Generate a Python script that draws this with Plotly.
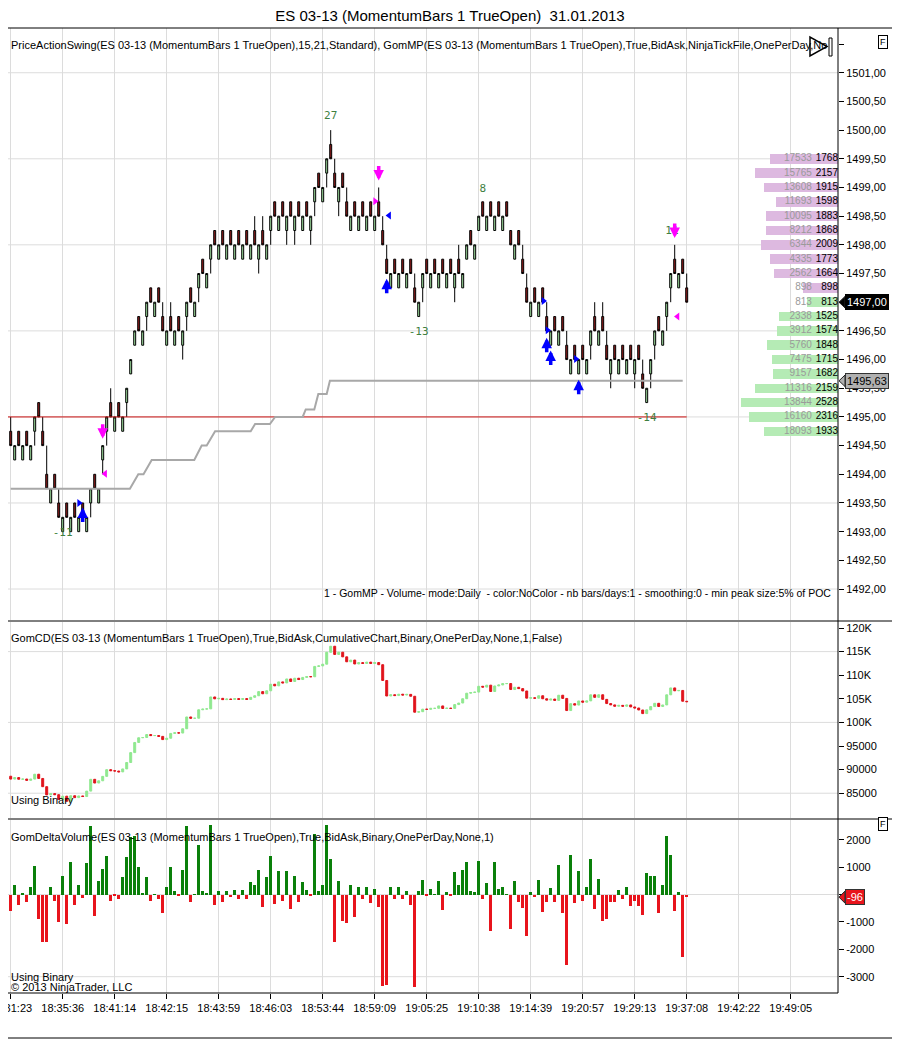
import numpy as np
import plotly.graph_objects as go
from plotly.subplots import make_subplots

FONT = "Arial, Liberation Sans, sans-serif"

# ---------------- price bars (MomentumBars 1 TrueOpen), one per bar index
bar_open = [
    1494.75, 1494.25, 1494.75, 1494.25, 1494.75, 1494.25, 1494.75, 1495.25, 1494.75, 1494.00,
    1493.50, 1494.00, 1493.50, 1493.00, 1493.50, 1493.00, 1493.50, 1493.00, 1493.50, 1493.00,
    1493.50, 1494.00, 1493.50, 1494.25, 1494.75, 1495.25, 1494.75, 1495.25, 1494.75, 1495.25,
    1495.75, 1496.25, 1496.75, 1496.25, 1496.75, 1497.25, 1496.75, 1497.25, 1496.75, 1496.25,
    1496.75, 1496.25, 1496.75, 1496.25, 1496.75, 1497.25, 1496.75, 1497.25, 1497.75, 1497.25,
    1497.75, 1498.25, 1497.75, 1498.25, 1497.75, 1498.25, 1497.75, 1498.25, 1497.75, 1498.25,
    1497.75, 1498.25, 1497.75, 1498.25, 1497.75, 1498.25, 1498.75, 1498.25, 1498.75, 1498.25,
    1498.75, 1498.25, 1498.75, 1498.25, 1498.75, 1498.25, 1498.75, 1499.25, 1498.75, 1499.25,
    1499.75, 1499.25, 1498.75, 1499.25, 1498.75, 1498.25, 1498.75, 1498.25, 1498.75, 1498.25,
    1498.75, 1498.25, 1498.75, 1498.25, 1497.75, 1497.25, 1497.75, 1497.25, 1497.75, 1497.25,
    1497.75, 1497.25, 1496.75, 1497.25, 1497.75, 1497.25, 1497.75, 1497.25, 1497.75, 1497.25,
    1497.75, 1497.25, 1497.75, 1497.25, 1497.75, 1498.25, 1497.75, 1498.25, 1498.75, 1498.25,
    1498.75, 1498.25, 1498.75, 1498.25, 1498.75, 1498.25, 1497.75, 1498.25, 1497.75, 1497.25,
    1496.75, 1497.25, 1496.75, 1497.25, 1496.75, 1496.25, 1496.75, 1496.25, 1496.75, 1496.25,
    1495.75, 1496.25, 1495.75, 1496.25, 1495.75, 1496.25, 1496.75, 1496.25, 1496.75, 1496.25,
    1495.75, 1496.25, 1495.75, 1496.25, 1495.75, 1496.25, 1495.75, 1496.25, 1495.75, 1495.25,
    1495.75, 1496.25, 1496.75, 1496.25, 1496.75, 1497.25, 1497.75, 1497.25, 1497.75, 1497.25,
]
bar_close = [
    1494.50, 1494.50, 1494.50, 1494.50, 1494.50, 1494.50, 1495.00, 1495.00, 1494.50, 1493.75,
    1493.75, 1493.75, 1493.25, 1493.25, 1493.25, 1493.25, 1493.25, 1493.25, 1493.25, 1493.25,
    1493.75, 1493.75, 1493.75, 1494.50, 1495.00, 1495.00, 1495.00, 1495.00, 1495.00, 1495.50,
    1496.00, 1496.50, 1496.50, 1496.50, 1497.00, 1497.00, 1497.00, 1497.00, 1496.50, 1496.50,
    1496.50, 1496.50, 1496.50, 1496.50, 1497.00, 1497.00, 1497.00, 1497.50, 1497.50, 1497.50,
    1498.00, 1498.00, 1498.00, 1498.00, 1498.00, 1498.00, 1498.00, 1498.00, 1498.00, 1498.00,
    1498.00, 1498.00, 1498.00, 1498.00, 1498.00, 1498.50, 1498.50, 1498.50, 1498.50, 1498.50,
    1498.50, 1498.50, 1498.50, 1498.50, 1498.50, 1498.50, 1499.00, 1499.00, 1499.00, 1499.50,
    1499.50, 1499.00, 1499.00, 1499.00, 1498.50, 1498.50, 1498.50, 1498.50, 1498.50, 1498.50,
    1498.50, 1498.50, 1498.50, 1498.00, 1497.50, 1497.50, 1497.50, 1497.50, 1497.50, 1497.50,
    1497.50, 1497.00, 1497.00, 1497.50, 1497.50, 1497.50, 1497.50, 1497.50, 1497.50, 1497.50,
    1497.50, 1497.50, 1497.50, 1497.50, 1498.00, 1498.00, 1498.00, 1498.50, 1498.50, 1498.50,
    1498.50, 1498.50, 1498.50, 1498.50, 1498.50, 1498.00, 1498.00, 1498.00, 1497.50, 1497.00,
    1497.00, 1497.00, 1497.00, 1497.00, 1496.50, 1496.50, 1496.50, 1496.50, 1496.50, 1496.00,
    1496.00, 1496.00, 1496.00, 1496.00, 1496.00, 1496.50, 1496.50, 1496.50, 1496.50, 1496.00,
    1496.00, 1496.00, 1496.00, 1496.00, 1496.00, 1496.00, 1496.00, 1496.00, 1495.50, 1495.50,
    1496.00, 1496.50, 1496.50, 1496.50, 1497.00, 1497.50, 1497.50, 1497.50, 1497.50, 1497.00,
]
bar_high = [
    1495.00, 1494.50, 1494.75, 1494.50, 1494.75, 1494.50, 1495.00, 1495.25, 1495.00, 1494.50,
    1493.75, 1494.00, 1493.75, 1493.25, 1493.50, 1493.25, 1493.50, 1493.25, 1493.50, 1493.25,
    1493.75, 1494.00, 1493.75, 1494.50, 1495.00, 1495.50, 1495.00, 1495.25, 1495.00, 1495.50,
    1496.00, 1496.50, 1496.75, 1496.50, 1497.00, 1497.25, 1497.00, 1497.25, 1497.00, 1496.50,
    1497.00, 1496.50, 1496.75, 1496.50, 1497.00, 1497.25, 1497.00, 1497.50, 1497.75, 1497.50,
    1498.00, 1498.25, 1498.00, 1498.25, 1498.00, 1498.25, 1498.00, 1498.25, 1498.00, 1498.25,
    1498.00, 1498.50, 1498.00, 1498.50, 1498.00, 1498.50, 1498.75, 1498.50, 1498.75, 1498.50,
    1498.75, 1498.50, 1498.75, 1498.50, 1498.75, 1498.50, 1499.00, 1499.25, 1499.00, 1499.50,
    1500.00, 1499.50, 1499.00, 1499.25, 1499.00, 1498.50, 1498.75, 1498.50, 1498.75, 1498.50,
    1498.75, 1498.50, 1499.00, 1498.50, 1498.00, 1497.50, 1497.75, 1497.50, 1497.75, 1497.50,
    1497.75, 1497.50, 1497.00, 1497.50, 1497.75, 1497.50, 1497.75, 1497.50, 1497.75, 1497.50,
    1497.75, 1497.50, 1498.00, 1497.50, 1498.00, 1498.25, 1498.00, 1498.50, 1498.75, 1498.50,
    1498.75, 1498.50, 1498.75, 1498.50, 1498.75, 1498.25, 1498.00, 1498.25, 1498.00, 1497.50,
    1497.00, 1497.25, 1497.00, 1497.25, 1497.00, 1496.50, 1496.75, 1496.50, 1496.75, 1496.50,
    1496.00, 1496.25, 1496.00, 1496.25, 1496.00, 1496.50, 1497.00, 1496.50, 1497.00, 1496.50,
    1496.00, 1496.25, 1496.00, 1496.25, 1496.00, 1496.25, 1496.00, 1496.25, 1496.00, 1495.50,
    1496.00, 1496.50, 1496.75, 1496.50, 1497.00, 1497.50, 1498.00, 1497.50, 1497.75, 1497.50,
]
bar_low = [
    1494.50, 1494.25, 1494.50, 1494.25, 1494.50, 1494.25, 1494.50, 1495.00, 1494.50, 1493.75,
    1493.50, 1493.75, 1493.25, 1493.00, 1493.25, 1493.00, 1493.25, 1493.00, 1493.25, 1493.00,
    1493.25, 1493.75, 1493.50, 1494.00, 1494.50, 1495.00, 1494.75, 1495.00, 1494.75, 1495.00,
    1495.75, 1496.25, 1496.50, 1496.25, 1496.50, 1497.00, 1496.75, 1497.00, 1496.50, 1496.25,
    1496.50, 1496.25, 1496.50, 1496.00, 1496.50, 1497.00, 1496.75, 1497.00, 1497.50, 1497.25,
    1497.50, 1498.00, 1497.75, 1498.00, 1497.75, 1498.00, 1497.75, 1498.00, 1497.75, 1498.00,
    1497.75, 1498.00, 1497.50, 1498.00, 1497.75, 1498.00, 1498.50, 1498.25, 1498.50, 1498.00,
    1498.50, 1498.00, 1498.50, 1498.25, 1498.50, 1498.00, 1498.50, 1499.00, 1498.75, 1499.00,
    1499.50, 1499.00, 1498.50, 1499.00, 1498.50, 1498.25, 1498.50, 1498.25, 1498.50, 1498.25,
    1498.50, 1498.25, 1498.50, 1498.00, 1497.50, 1497.25, 1497.50, 1497.25, 1497.50, 1497.25,
    1497.50, 1497.00, 1496.75, 1497.00, 1497.50, 1497.25, 1497.50, 1497.25, 1497.50, 1497.25,
    1497.50, 1497.00, 1497.50, 1497.25, 1497.75, 1498.00, 1497.75, 1498.25, 1498.50, 1498.25,
    1498.50, 1498.25, 1498.50, 1498.25, 1498.50, 1498.00, 1497.75, 1498.00, 1497.50, 1497.00,
    1496.75, 1497.00, 1496.75, 1497.00, 1496.50, 1496.25, 1496.50, 1496.25, 1496.50, 1496.00,
    1495.75, 1496.00, 1495.75, 1496.00, 1495.75, 1496.00, 1496.50, 1496.25, 1496.50, 1496.00,
    1495.50, 1496.00, 1495.75, 1496.00, 1495.75, 1496.00, 1495.50, 1496.00, 1495.50, 1495.25,
    1495.50, 1496.00, 1496.50, 1496.25, 1496.50, 1497.00, 1497.50, 1497.25, 1497.50, 1497.00,
]

# delta volume per bar (GomDeltaVolume)
delta = [
    -610, 330, -365, 50, -280, 270, 1030, -900, -1740, -1740,
    270, -220, -1010, 690, -1080, 1170, -400, 365, -130, 1145,
    2500, -790, 475, 940, 1420, -220, -70, -180, 630, 1360,
    2090, 2150, 1000, 50, 630, -220, 10, -180, -680, 290,
    1020, 145, -70, 910, 2500, -280, 10, 1790, 145, 50,
    2520, -400, 110, -280, 145, -100, 180, -180, 180, -180,
    450, 330, 880, -460, 630, 1390, -340, 840, -220, 840,
    -535, 690, -280, 450, 180, -40, 2190, 110, 365, 2520,
    1280, -1740, 475, -985, -1045, 365, -830, 290, -180, 290,
    -300, 210, -460, -3345, -3285, 270, -180, 290, -180, 145,
    -400, -3380, 110, 535, -40, 210, 10, 510, -550, 75,
    -60, 815, 330, 910, 1170, 145, 85, 1240, -180, 415,
    -1340, 1170, 210, 290, 10, -1265, 475, -280, -500, -1520,
    75, -100, 535, -645, -280, 220, -280, 1095, -680, -2570,
    1460, -300, 875, -255, 270, 1280, -535, 550, -975, -890,
    -280, -280, 180, -180, 270, -425, -220, -425, -765, 800,
    690, 690, -680, 330, 2150, 1460, -610, 75, -2290, -96,
]
cd_start = 88600  # cumulative delta before the first bar

# time axis
tick_pos = [0, 13, 26, 39, 52, 65, 78, 91, 104, 117, 130, 143, 156, 169, 182, 195]
tick_lbl = ["18:31:23", "18:35:36", "18:41:14", "18:42:15", "18:43:59", "18:46:03",
            "18:53:44", "18:59:09", "19:05:25", "19:10:38", "19:14:39", "19:20:57",
            "19:29:13", "19:37:08", "19:42:22", "19:49:05"]

# GomMP developing line (breakpoints)
mp_idx = [0, 29.8, 31.9, 33.2, 35.25, 45.9, 47.75, 49, 51.1, 60, 61.1, 64.8, 66.1,
          73, 73.75, 75.9, 76.9, 79, 79.8, 168]
mp_val = [1493.75, 1493.75, 1494.0, 1494.0, 1494.25, 1494.25, 1494.5, 1494.5, 1494.75,
          1494.75, 1494.875, 1494.875, 1495.0, 1495.0, 1495.13, 1495.13, 1495.4, 1495.4,
          1495.63, 1495.63]
ref_level = 1495.0
ref_end = 169

# volume profile (right side)
vp_price = [1499.5, 1499.25, 1499.0, 1498.75, 1498.5, 1498.25, 1498.0, 1497.75, 1497.5, 1497.25,
            1497.0, 1496.75, 1496.5, 1496.25, 1496.0, 1495.75, 1495.5, 1495.25, 1495.0, 1494.75]
vp_vol = [1768, 2157, 1915, 1598, 1883, 1868, 2009, 1773, 1664, 898,
          813, 1525, 1574, 1848, 1715, 1682, 2159, 2528, 2316, 1933]
vp_cum = [17533, 15765, 13608, 11693, 10095, 8212, 6344, 4335, 2562, 898,
          813, 2338, 3912, 5760, 7475, 9157, 11316, 13844, 16160, 18093]

# PriceActionSwing labels
swing_idx = [13, 80, 102, 118, 159, 165.3]
swing_px = [1492.98, 1500.24, 1496.47, 1498.97, 1494.97, 1498.24]
swing_txt = ["-11", "27", "-13", "8", "-14", "11"]

# signal arrows / triangles
dn_arrow_idx = [23, 92, 166]
dn_arrow_px = [1494.62, 1499.12, 1498.12]
up_arrow_idx = [18, 94, 134, 135, 142]
up_arrow_px = [1493.42, 1497.41, 1496.38, 1496.16, 1495.65]
pink_r_idx, pink_r_px = [91.1], [1498.76]
pink_l_idx, pink_l_px = [23.6, 166.7], [1494.01, 1496.75]
blue_l_idx, blue_l_px = [94.6], [1498.51]
blue_r_idx, blue_r_px = [17.1, 133.2, 134.2, 141.3], [1493.50, 1497.02, 1496.51, 1496.01]

price_ticks = [1492.0, 1492.5, 1493.0, 1493.5, 1494.0, 1494.5, 1495.0, 1495.5, 1496.0,
               1496.5, 1497.0, 1497.5, 1498.0, 1498.5, 1499.0, 1499.5, 1500.0, 1500.5, 1501.0, 1501.5]
price_grid = [1492.0, 1493.5, 1495.0, 1496.5, 1498.0, 1499.5, 1501.0]
cd_ticks = [85000, 90000, 95000, 100000, 105000, 110000, 115000, 120000]
cd_lbl = ["85000", "90000", "95000", "100K", "105K", "110K", "115K", "120K"]
cd_grid = [85000, 100000, 115000]
dv_ticks = [-3000, -2000, -1000, 0, 1000, 2000]
dv_grid = [-3000, 0]

# ---------------- derived series
idx = list(range(len(bar_open)))
cd_close = cd_start + np.cumsum(delta)
cd_open = np.concatenate([[cd_start], cd_close[:-1]])
last_close = bar_close[-1]
x_range = [-0.675, 206.825]

# the page puts the figure 8px in from the window corner
OFF = 8
PLOT_W = 830.0


def pxx(x):
    # window pixel -> paper x
    return (x - OFF) / PLOT_W


def pxy(y):
    # window pixel -> paper y (plot area spans window y 28..993)
    return (993.0 - y) / 965.0


def price_lbl(v):
    return f"{v:.2f}".replace(".", ",")


fig = make_subplots(rows=3, cols=1, shared_xaxes=True)

fig.add_trace(go.Candlestick(
    x=idx, open=bar_open, high=bar_high, low=bar_low, close=bar_close,
    increasing=dict(fillcolor="#A4E6A4", line=dict(color="black", width=1)),
    decreasing=dict(fillcolor="#8E1B1B", line=dict(color="black", width=1)),
    whiskerwidth=0, hoverinfo="skip", showlegend=False), row=1, col=1)

fig.add_trace(go.Scatter(x=[x_range[0], ref_end], y=[ref_level, ref_level], mode="lines",
                         line=dict(color="#CC1111", width=1), hoverinfo="skip",
                         showlegend=False), row=1, col=1)
fig.add_trace(go.Scatter(x=mp_idx, y=mp_val, mode="lines",
                         line=dict(color="#A8A8A8", width=2), hoverinfo="skip",
                         showlegend=False), row=1, col=1)
fig.add_trace(go.Scatter(x=swing_idx, y=swing_px, mode="text", text=swing_txt,
                         textfont=dict(family="DejaVu Sans Mono", size=11, color="#3F7F3F"),
                         hoverinfo="skip", showlegend=False), row=1, col=1)

for xs, ys, sym, col in [(pink_r_idx, pink_r_px, "triangle-right", "#FF00FF"),
                         (pink_l_idx, pink_l_px, "triangle-left", "#FF00FF"),
                         (blue_l_idx, blue_l_px, "triangle-left", "#0000FF"),
                         (blue_r_idx, blue_r_px, "triangle-right", "#0000FF")]:
    fig.add_trace(go.Scatter(x=xs, y=ys, mode="markers",
                             marker=dict(symbol=sym, size=7, color=col),
                             hoverinfo="skip", showlegend=False), row=1, col=1)

# volume profile on an overlay axis (0 at the right edge, 0.0385 px per contract)
vp_scale = PLOT_W / 0.0385
vp_colors = ["#DDB9E0" if p > last_close else "#B5EBB5" for p in vp_price]
fig.add_trace(go.Bar(x=vp_vol, y=vp_price, orientation="h", width=0.165,
                     marker=dict(color=vp_colors, line=dict(width=0)),
                     xaxis="x4", yaxis="y", hoverinfo="skip", showlegend=False))
fig.add_trace(go.Scatter(x=[680] * len(vp_price), y=vp_price, mode="text",
                         text=[str(v) for v in vp_cum], textposition="middle left",
                         textfont=dict(family=FONT, size=10, color="#9A9A9A"),
                         xaxis="x4", yaxis="y", cliponaxis=False, hoverinfo="skip",
                         showlegend=False))
fig.add_trace(go.Scatter(x=[0] * len(vp_price), y=vp_price, mode="text",
                         text=[str(v) for v in vp_vol], textposition="middle left",
                         textfont=dict(family=FONT, size=10, color="black"),
                         xaxis="x4", yaxis="y", cliponaxis=False, hoverinfo="skip",
                         showlegend=False))

# cumulative delta
fig.add_trace(go.Candlestick(
    x=idx, open=cd_open, close=cd_close,
    high=np.maximum(cd_open, cd_close), low=np.minimum(cd_open, cd_close),
    increasing=dict(fillcolor="#90E890", line=dict(color="#90E890", width=1)),
    decreasing=dict(fillcolor="#E0141C", line=dict(color="#E0141C", width=1)),
    whiskerwidth=0, hoverinfo="skip", showlegend=False), row=2, col=1)

# delta volume
fig.add_trace(go.Bar(x=idx, y=delta, width=0.72,
                     marker=dict(color=["#0A800A" if v >= 0 else "#E8141C" for v in delta],
                                 line=dict(width=0)),
                     hoverinfo="skip", showlegend=False), row=3, col=1)

# ---------------- layout
axis_common = dict(showline=False, zeroline=False, ticks="outside", ticklen=5,
                   tickcolor="black", tickfont=dict(family=FONT, size=11, color="black"),
                   side="right", showgrid=False, fixedrange=True, automargin=False)
fig.update_layout(
    width=900 - OFF, height=1039 - OFF,
    margin=dict(l=0, r=900 - OFF - PLOT_W, t=28 - OFF, b=1039 - 993),
    paper_bgcolor="white", plot_bgcolor="white",
    font=dict(family=FONT, size=11, color="black"),
    showlegend=False, bargap=0,
    title=dict(text="ES 03-13 (MomentumBars 1 TrueOpen)\u00a0 31.01.2013", x=(450 - OFF) / (900 - OFF),
               xanchor="center", y=1 - (16 - OFF) / (1039 - OFF), yanchor="middle",
               font=dict(family=FONT, size=15, color="black")),
    yaxis=dict(domain=[pxy(620), 1.0], range=[1491.46, 1501.78], tickvals=price_ticks,
               ticktext=["" if v in (1501.5, last_close) else price_lbl(v) for v in price_ticks],
               **axis_common),
    yaxis2=dict(domain=[pxy(818), pxy(622)], range=[79750, 121270], tickvals=cd_ticks,
                ticktext=cd_lbl, **axis_common),
    yaxis3=dict(domain=[0, pxy(820)], range=[-3595, 2719], tickvals=dv_ticks,
                ticktext=["" if v == 0 else str(v) for v in dv_ticks], **axis_common),
    xaxis4=dict(overlaying="x", anchor="y", range=[vp_scale, 0], visible=False,
                fixedrange=True, automargin=False),
)
for r in (1, 2, 3):
    fig.update_xaxes(row=r, col=1, range=x_range, tickvals=tick_pos, ticktext=tick_lbl,
                     showgrid=True, gridcolor="#DCDCDC", gridwidth=1, zeroline=False,
                     rangeslider_visible=False, fixedrange=True, automargin=False,
                     showticklabels=(r == 3), ticks="outside" if r == 3 else "",
                     ticklen=5, tickcolor="black", ticklabeloverflow="allow",
                     tickfont=dict(family=FONT, size=11, color="black"))

shapes = []
for yref, grid in (("y", price_grid), ("y2", cd_grid), ("y3", dv_grid)):
    for g in grid:
        shapes.append(dict(type="line", xref="x domain", x0=0, x1=1, yref=yref, y0=g, y1=g,
                           line=dict(color="#DCDCDC", width=1), layer="below"))
frame = dict(color="black", width=1)
full_w = pxx(900)
for yy in (28, 621, 819):
    shapes.append(dict(type="line", xref="paper", yref="paper", x0=pxx(0), x1=full_w,
                       y0=pxy(yy), y1=pxy(yy), line=frame))
shapes.append(dict(type="line", xref="paper", yref="paper", x0=pxx(0), x1=1, y0=0, y1=0,
                   line=frame))
shapes.append(dict(type="line", xref="paper", yref="paper", x0=1, x1=1, y0=0, y1=1, line=frame))
shapes.append(dict(type="line", xref="paper", yref="paper", x0=pxx(0), x1=full_w,
                   y0=pxy(1038), y1=pxy(1038), line=frame))
# play button
shapes.append(dict(type="path", xref="paper", yref="paper",
                   path=f"M {pxx(810)},{pxy(37)} L {pxx(810)},{pxy(56)} L {pxx(827)},{pxy(46.5)} Z",
                   line=dict(color="black", width=1.5), fillcolor="white"))
shapes.append(dict(type="rect", xref="paper", yref="paper", x0=pxx(829), x1=pxx(832),
                   y0=pxy(56), y1=pxy(38), line=dict(color="black", width=1), fillcolor="white"))
# notches of the value markers on the right axes
for yref, val, col, h in (("y", last_close, "black", 0.1), ("y", mp_val[-1], "#B0B0B0", 0.1),
                          ("y3", delta[-1], "#E8141C", 220)):
    shapes.append(dict(type="path", xref="paper", yref=yref,
                       path=f"M {pxx(839)},{val} L {pxx(845)},{val + h} L {pxx(845)},{val - h} Z",
                       line=dict(color="#222222", width=1), fillcolor=col))

ann = []


def note(text, x, y, xanchor="left", size=11, color="black"):
    ann.append(dict(text=text, x=pxx(x), y=pxy(y), xref="paper", yref="paper",
                    xanchor=xanchor, yanchor="middle", showarrow=False,
                    font=dict(family=FONT, size=size, color=color)))


LEFT = 9  # first visible window column is 8
note("PriceActionSwing(ES 03-13 (MomentumBars 1 TrueOpen),15,21,Standard), "
     "GomMP(ES 03-13 (MomentumBars 1 TrueOpen),True,BidAsk,NinjaTickFile,OnePerDay,No", LEFT, 45,
     size=11)
note("1 - GomMP - Volume- mode:Daily  - color:NoColor - nb bars/days:1 - smoothing:0 - "
     "min peak size:5% of POC", 833, 593, xanchor="right", size=10.5)
note("GomCD(ES 03-13 (MomentumBars 1 TrueOpen),True,BidAsk,CumulativeChart,Binary,"
     "OnePerDay,None,1,False)", LEFT, 638)
note("Using Binary", LEFT, 800)
note("GomDeltaVolume(ES 03-13 (MomentumBars 1 TrueOpen),True,BidAsk,Binary,OnePerDay,None,1)",
     LEFT, 837)
note("Using Binary", LEFT, 977)
note("\u00a9 2013 NinjaTrader, LLC", LEFT, 987)

for yy in (35, 831):
    ann.append(dict(text="F", x=pxx(888), y=pxy(yy), xref="paper", yref="paper",
                    showarrow=False, font=dict(family=FONT, size=9, color="black"),
                    bordercolor="black", borderwidth=1, borderpad=1, bgcolor="white"))

for yref, val, text, bg, fg in (("y", last_close, price_lbl(last_close), "black", "white"),
                                ("y", mp_val[-1], price_lbl(mp_val[-1]), "#B0B0B0", "black"),
                                ("y3", delta[-1], str(delta[-1]), "#E8141C", "white")):
    ann.append(dict(text=text, x=pxx(845), y=val, xref="paper", yref=yref, xanchor="left",
                    yanchor="middle", showarrow=False, bgcolor=bg, borderpad=1,
                    bordercolor="#333333" if bg != "black" else "black", borderwidth=1,
                    font=dict(family=FONT, size=11, color=fg)))

for xs, ys, col, ay in ((dn_arrow_idx, dn_arrow_px, "#FF00FF", -16),
                        (up_arrow_idx, up_arrow_px, "#0000FF", 16)):
    for xv, yv in zip(xs, ys):
        ann.append(dict(text="", x=xv, y=yv, xref="x", yref="y", ax=0, ay=ay,
                        showarrow=True, arrowhead=2, arrowsize=0.6, arrowwidth=3.5,
                        arrowcolor=col, standoff=0, startstandoff=0))

fig.update_layout(shapes=shapes, annotations=ann)
fig.write_html("out.html")
